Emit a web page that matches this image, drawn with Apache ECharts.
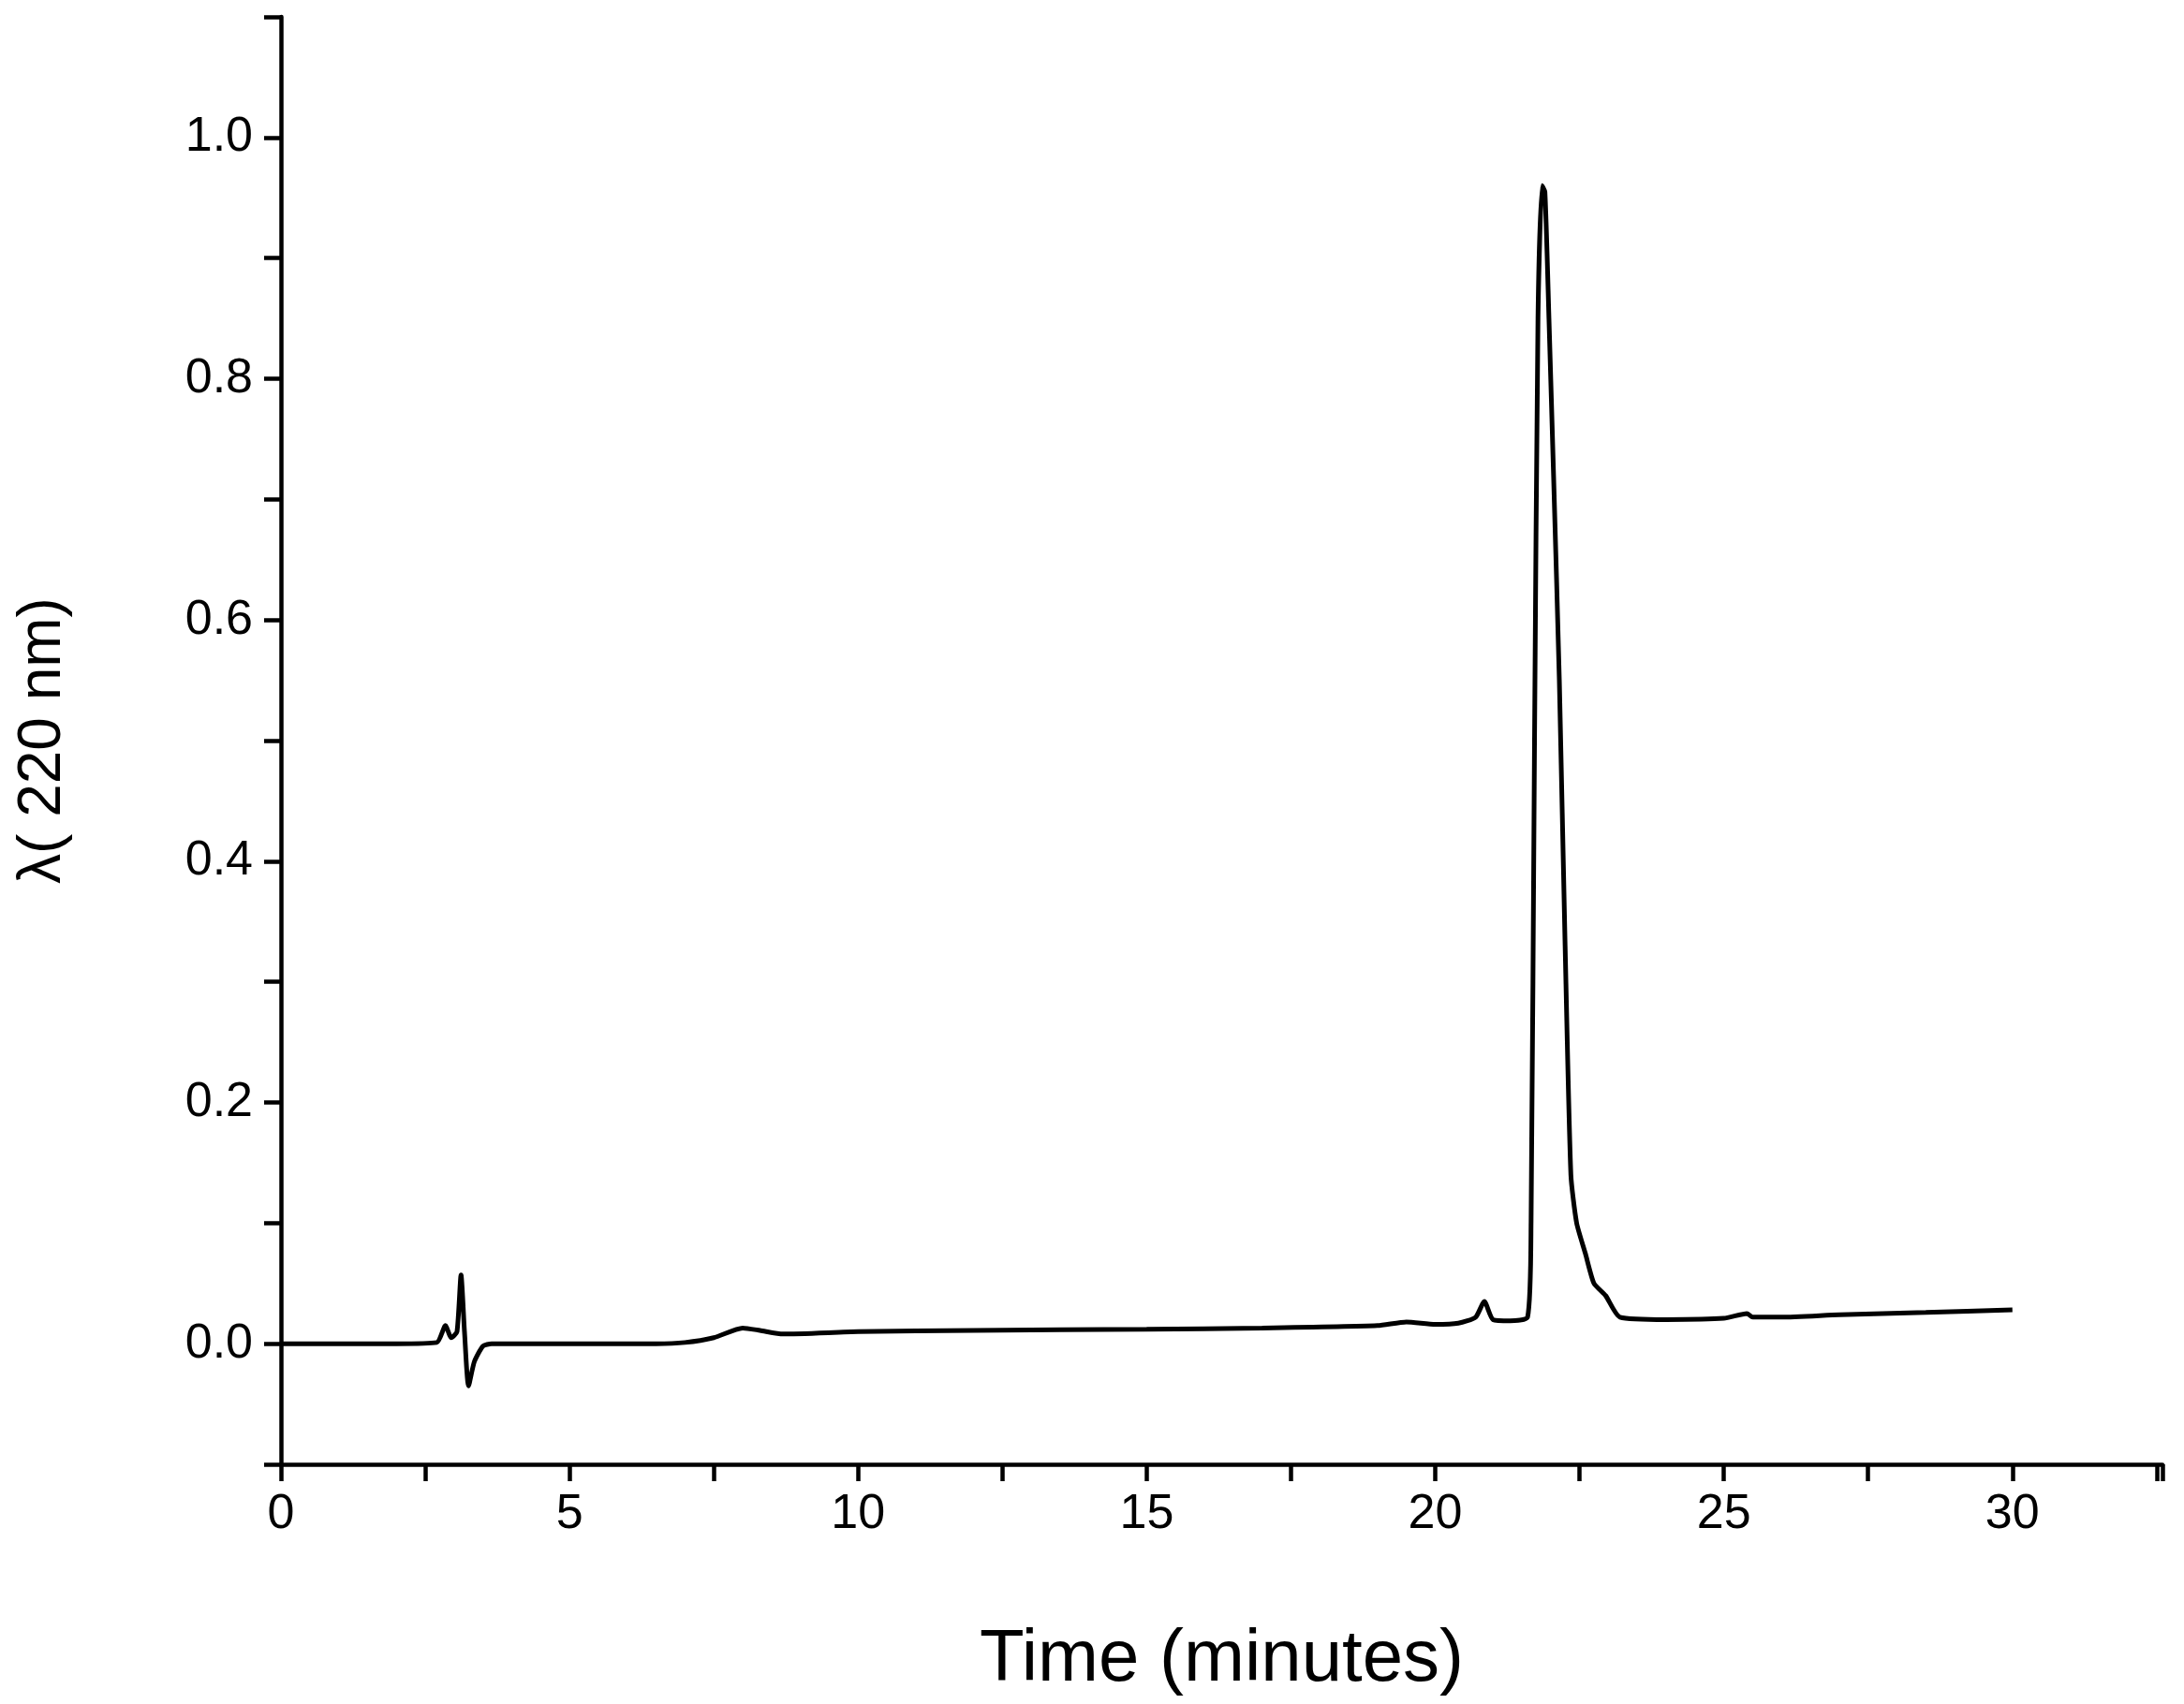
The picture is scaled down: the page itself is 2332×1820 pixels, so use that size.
<!DOCTYPE html>
<html><head><meta charset="utf-8">
<script src="https://cdn.jsdelivr.net/npm/echarts@6/dist/echarts.min.js"></script>
<style>html,body{margin:0;padding:0;background:#fff}#c{width:2332px;height:1820px}</style>
</head><body><div id="c"></div>
<script>
const timeMin = [0,1,2,2.7,2.85,2.95,3.05,3.12,3.18,3.25,3.35,3.5,3.65,5,6.5,7,7.5,8,8.3,8.7,10,12,15,17,19,19.5,20,20.4,20.7,20.85,21.0,21.3,21.6,21.66,21.72,21.78,21.85,21.9,21.97,22.05,22.15,22.25,22.35,22.45,22.6,22.75,22.95,23.2,24,25,25.4,25.5,26,27,28.5,30];
const absorb = [0,0,0,0.001,0.015,0.005,0.01,0.057,0.01,-0.035,-0.015,-0.002,0,0,0,0.001,0.005,0.013,0.011,0.008,0.01,0.011,0.012,0.013,0.015,0.018,0.016,0.017,0.022,0.035,0.02,0.019,0.022,0.1,0.5,0.85,0.96,0.955,0.85,0.72,0.55,0.33,0.14,0.1,0.075,0.05,0.04,0.022,0.02,0.021,0.025,0.022,0.022,0.024,0.026,0.028];
const chart = echarts.init(document.getElementById('c'));
const font = 'Arial, "Liberation Sans", sans-serif';
chart.setOption({
  animation:false,
  backgroundColor:'#fff',
  grid:{left:300,right:23,top:18,bottom:256},
  xAxis:{type:'value',min:0,max:32.6,interval:2.5,
    name:'Time (minutes)',nameLocation:'middle',nameGap:170,
    nameTextStyle:{fontSize:78,color:'#000',fontFamily:font},
    axisLine:{onZero:false,lineStyle:{color:'#000',width:4.5}},
    axisTick:{inside:false,length:18,lineStyle:{color:'#000',width:4.5}},
    axisLabel:{fontSize:52,color:'#000',fontFamily:font,margin:28,
      formatter:v=>Math.abs(v%5)<1e-6?String(v):''},
    splitLine:{show:false}},
  yAxis:{type:'value',min:-0.1,max:1.1,interval:0.1,
    name:'λ( 220 nm)',nameLocation:'middle',nameGap:222,
    nameTextStyle:{fontSize:64,color:'#000',fontFamily:font},
    axisLine:{onZero:false,lineStyle:{color:'#000',width:4.5}},
    axisTick:{inside:false,length:18,lineStyle:{color:'#000',width:4.5}},
    axisLabel:{fontSize:52,color:'#000',fontFamily:font,margin:30,
      formatter:v=>{const k=Math.round(v*10);return (k%2===0&&k>=0&&k<=10)?(k/10).toFixed(1):'';}},
    splitLine:{show:false}},
  series:[{type:'line',data:timeMin.map((t,i)=>[t,absorb[i]]),showSymbol:false,
    lineStyle:{color:'#000',width:5},smooth:0.2}]
});
</script></body></html>
